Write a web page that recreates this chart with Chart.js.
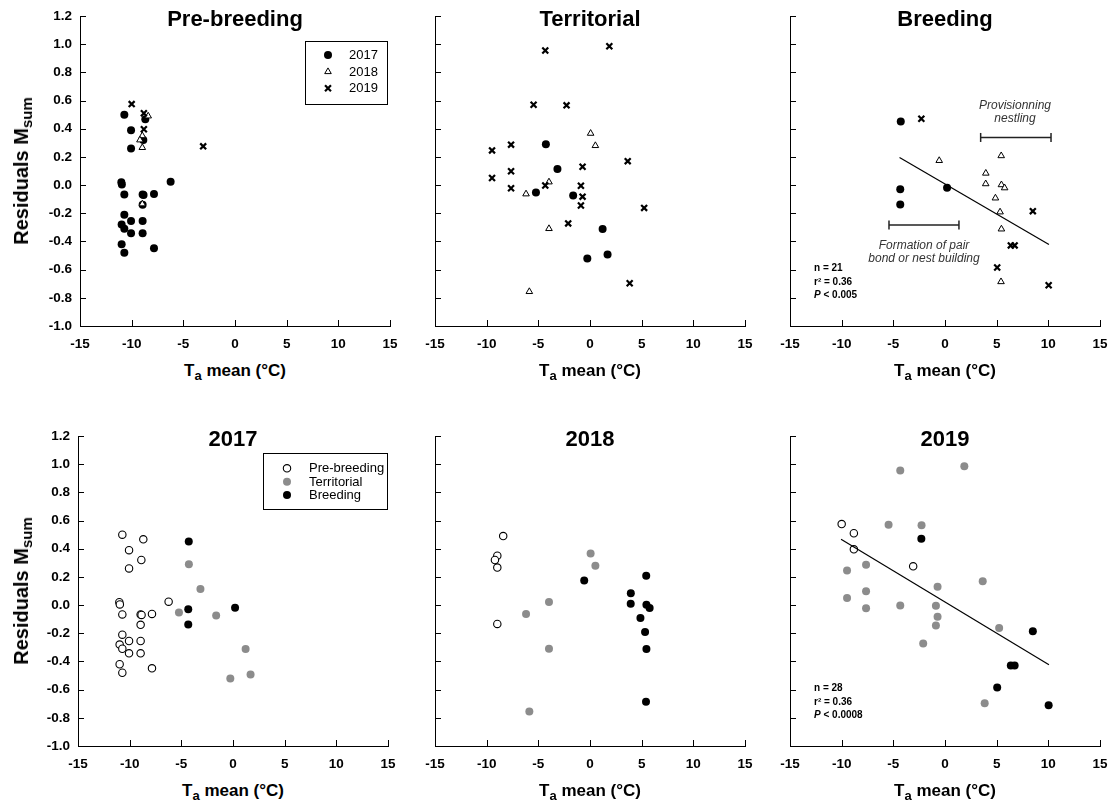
<!DOCTYPE html>
<html>
<head>
<meta charset="utf-8">
<title>Residuals Msum vs Ta mean</title>
<script src="https://cdn.jsdelivr.net/npm/chart.js@4.4.1/dist/chart.umd.min.js"></script>
<style>
  body { margin: 0; background: #fff; font-family: "Liberation Sans", Arial, sans-serif; }
  #page { position: relative; width: 1114px; height: 806px; overflow: hidden; background: #fff; }
  .box { position: absolute; width: 400px; height: 350px; }
  .txt { position: absolute; white-space: nowrap; line-height: 1; color: #000; }
  .sub { position: relative; top: 4px; }
</style>
</head>
<body>
<div id="page"></div>
<script>
// axis ranges / ticks
const xMin = -15, xMax = 15, xStep = 5;
const yMin = -1.0, yMax = 1.2, yStep = 0.2;

const years = ['2017', '2018', '2019'];
const phases = ['Pre-breeding', 'Territorial', 'Breeding'];

// [Ta mean, residual] per phase and year
const pre2017 = [[-10.71, 0.50], [-10.06, 0.39], [-10.06, 0.26], [-8.68, 0.467], [-8.87, 0.32],
  [-11.0, 0.02], [-10.95, 0.005], [-10.71, -0.066], [-8.94, -0.066], [-8.85, -0.07], [-7.84, -0.063],
  [-6.23, 0.024], [-8.94, -0.14], [-10.71, -0.21], [-10.97, -0.28], [-10.71, -0.31], [-10.06, -0.255],
  [-8.94, -0.255], [-10.06, -0.342], [-8.94, -0.342], [-10.97, -0.42], [-10.71, -0.48], [-7.84, -0.449]];
const pre2018 = [[-8.4, 0.49], [-8.97, 0.35], [-9.2, 0.32], [-8.97, 0.266], [-8.97, -0.134]];
const pre2019 = [[-10.0, 0.575], [-8.82, 0.51], [-8.82, 0.396], [-3.08, 0.275]];

const ter2017 = [[-4.27, 0.29], [-3.15, 0.115], [-5.23, -0.052], [-1.63, -0.074], [1.22, -0.311],
  [-0.26, -0.521], [1.7, -0.492]];
const ter2018 = [[0.06, 0.367], [0.52, 0.28], [-3.97, 0.022], [-6.19, -0.063], [-3.97, -0.309], [-5.87, -0.756]];
const ter2019 = [[-4.33, 0.955], [1.87, 0.985], [-5.46, 0.57], [-2.27, 0.566], [-9.48, 0.246], [-7.64, 0.287],
  [3.65, 0.17], [-9.48, 0.05], [-7.64, 0.098], [-7.64, -0.022], [-0.72, 0.13], [-4.33, -0.003], [-0.88, -0.005],
  [-0.72, -0.082], [-0.88, -0.145], [-2.11, -0.272], [5.24, -0.162], [3.84, -0.697]];

const bre2017 = [[-4.28, 0.451], [-4.33, -0.03], [-4.33, -0.137], [0.2, -0.019]];
const bre2018 = [[-0.56, 0.174], [5.44, 0.208], [3.95, 0.084], [3.94, 0.009], [5.46, 0.002], [5.77, -0.02],
  [4.88, -0.092], [5.33, -0.191], [5.46, -0.312], [5.42, -0.686]];
const bre2019 = [[-2.29, 0.471], [8.5, -0.185], [6.37, -0.428], [6.74, -0.428], [5.05, -0.585], [10.03, -0.711]];

// regression lines (end points)
const breedFitX = [-4.4, 10.06], breedFitY = [0.196, -0.422];
const fit2019X = [-10.06, 10.06], fit2019Y = [0.467, -0.424];

// phase ranges drawn in the Breeding panel
const provRange = [3.45, 10.26], provY = 0.338;
const formRange = [-5.42, 1.35], formY = -0.283;

const breedStats = ['n = 21', 'r\u00b2 = 0.36', 'P < 0.005'];
const stats2019 = ['n = 28', 'r\u00b2 = 0.36', 'P < 0.0008'];

const styles = {
  dot:   { pointStyle: 'circle', pointRadius: 4, pointBackgroundColor: '#000', pointBorderColor: '#000', pointBorderWidth: 0 },
  tri:   { pointStyle: 'triangle', pointRadius: 3.8, pointBackgroundColor: '#fff', pointBorderColor: '#000', pointBorderWidth: 1 },
  cross: { pointStyle: 'crossRot', pointRadius: 4.2, pointBackgroundColor: '#000', pointBorderColor: '#000', pointBorderWidth: 2.2 },
  open:  { pointStyle: 'circle', pointRadius: 3.7, pointBackgroundColor: '#fff', pointBorderColor: '#000', pointBorderWidth: 1.1 },
  gray:  { pointStyle: 'circle', pointRadius: 4, pointBackgroundColor: '#8c8c8c', pointBorderColor: '#8c8c8c', pointBorderWidth: 0 }
};

const topLegend = { box: [225, 24.5, 307, 87], mx: 248, tx: 269, rows: [39, 55.7, 72.3] };
const botLegend = { box: [185, 16.5, 309, 72], mx: 209, tx: 231, rows: [32.3, 45.7, 59] };

const panels = [
  { px: 80, py: 16, col: 0, title: phases[0], legend: topLegend,
    series: [{ label: years[0], data: pre2017, style: 'dot' }, { label: years[1], data: pre2018, style: 'tri' }, { label: years[2], data: pre2019, style: 'cross' }] },
  { px: 435, py: 16, col: 1, title: phases[1],
    series: [{ label: years[0], data: ter2017, style: 'dot' }, { label: years[1], data: ter2018, style: 'tri' }, { label: years[2], data: ter2019, style: 'cross' }] },
  { px: 790, py: 16, col: 2, title: phases[2], fit: [breedFitX, breedFitY], stats: breedStats, ranges: true,
    series: [{ label: years[0], data: bre2017, style: 'dot' }, { label: years[1], data: bre2018, style: 'tri' }, { label: years[2], data: bre2019, style: 'cross' }] },
  { px: 78, py: 436, col: 0, title: years[0], legend: botLegend,
    series: [{ label: phases[0], data: pre2017, style: 'open' }, { label: phases[1], data: ter2017, style: 'gray' }, { label: phases[2], data: bre2017, style: 'dot' }] },
  { px: 435, py: 436, col: 1, title: years[1],
    series: [{ label: phases[0], data: pre2018, style: 'open' }, { label: phases[1], data: ter2018, style: 'gray' }, { label: phases[2], data: bre2018, style: 'dot' }] },
  { px: 790, py: 436, col: 2, title: years[2], fit: [fit2019X, fit2019Y], stats: stats2019,
    series: [{ label: phases[0], data: pre2019, style: 'open' }, { label: phases[1], data: ter2019, style: 'gray' }, { label: phases[2], data: bre2019, style: 'dot' }] }
];

Chart.defaults.font.family = '"Liberation Sans", Arial, sans-serif';

// short ticks pointing into the plot
const inTicks = {
  id: 'inTicks',
  afterDraw(chart) {
    const { ctx, chartArea: a, scales: { x, y } } = chart;
    ctx.save();
    ctx.strokeStyle = '#000';
    ctx.lineWidth = 1;
    ctx.beginPath();
    x.ticks.forEach(t => {
      const p = Math.round(x.getPixelForValue(t.value)) + 0.5;
      ctx.moveTo(p, a.bottom); ctx.lineTo(p, a.bottom - 6);
    });
    y.ticks.forEach(t => {
      const p = Math.round(y.getPixelForValue(t.value)) + 0.5;
      ctx.moveTo(a.left, p); ctx.lineTo(a.left + 6, p);
    });
    ctx.stroke();
    ctx.restore();
  }
};

// boxed legend inside the plot
const boxLegend = {
  id: 'boxLegend',
  afterDraw(chart, args, opts) {
    if (!opts || !opts.box) return;
    const { ctx, chartArea: a } = chart;
    const b = opts.box;
    ctx.save();
    ctx.strokeStyle = '#000';
    ctx.lineWidth = 1;
    ctx.strokeRect(Math.round(a.left + b[0]) + 0.5, Math.round(a.top + b[1]) + 0.5, Math.round(b[2] - b[0]), Math.round(b[3] - b[1]));
    opts.items.forEach((it, i) => {
      const st = styles[it.style];
      const yy = a.top + opts.rows[i];
      ctx.fillStyle = st.pointBackgroundColor;
      ctx.strokeStyle = st.pointBorderColor;
      ctx.lineWidth = st.pointBorderWidth;
      Chart.helpers.drawPoint(ctx, { pointStyle: st.pointStyle, radius: st.pointRadius, rotation: 0, borderWidth: st.pointBorderWidth }, a.left + opts.mx, yy);
      ctx.fillStyle = '#000';
      ctx.font = '13px "Liberation Sans", Arial, sans-serif';
      ctx.textBaseline = 'middle';
      ctx.textAlign = 'left';
      ctx.fillText(it.label, a.left + opts.tx, yy + 0.5);
    });
    ctx.restore();
  }
};

const page = document.getElementById('page');

function addText(html, x, baseline, fs, css) {
  const d = document.createElement('div');
  d.className = 'txt';
  d.innerHTML = html;
  d.style.fontSize = fs + 'px';
  d.style.left = x + 'px';
  d.style.top = (baseline - 0.8465 * fs) + 'px';
  Object.assign(d.style, css || {});
  page.appendChild(d);
  return d;
}

const pts = arr => arr.map(([x, y]) => ({ x, y }));
const fmtStat = s => s.replace(/^P/, '<i>P</i>');

panels.forEach(p => {
  const box = document.createElement('div');
  box.className = 'box';
  box.style.left = (p.px - 75) + 'px';
  box.style.top = (p.py - 10) + 'px';
  const cv = document.createElement('canvas');
  cv.width = 400; cv.height = 350;
  box.appendChild(cv);
  page.appendChild(box);

  const n = p.series.length;
  const datasets = p.series.map((s, i) => Object.assign({
    type: 'scatter', label: s.label, data: pts(s.data), order: n - i + 1
  }, styles[s.style]));

  if (p.fit) {
    datasets.push({
      type: 'scatter', label: 'fit', showLine: true, order: 0,
      data: p.fit[0].map((x, i) => ({ x, y: p.fit[1][i] })),
      borderColor: '#000', borderWidth: 1.2, pointRadius: 0
    });
  }
  if (p.ranges) {
    [[provRange, provY], [formRange, formY]].forEach(([r, yv]) => {
      datasets.push({
        type: 'scatter', label: 'range', showLine: true, order: 0,
        data: r.map(x => ({ x, y: yv })),
        borderColor: '#222', borderWidth: 1.5,
        pointStyle: 'line', pointRotation: 90, pointRadius: 4.5,
        pointBorderColor: '#222', pointBorderWidth: 1.5
      });
    });
  }

  const legendOpts = p.legend ? Object.assign({
    items: p.series.map(s => ({ label: s.label, style: s.style }))
  }, p.legend) : {};

  new Chart(cv.getContext('2d'), {
    type: 'scatter',
    data: { datasets },
    options: {
      responsive: false,
      animation: false,
      events: [],
      layout: { padding: { top: 10, right: 15, bottom: 0, left: 0 } },
      plugins: { legend: { display: false }, tooltip: { enabled: false }, boxLegend: legendOpts },
      scales: {
        x: {
          type: 'linear', min: xMin, max: xMax,
          ticks: { stepSize: xStep, color: '#000', padding: 2, font: { size: 13.5, weight: 'bold' } },
          grid: { display: false },
          border: { display: true, color: '#000', width: 1 },
          afterFit: s => { s.height = 30; s.paddingLeft = 0; s.paddingRight = 0; }
        },
        y: {
          type: 'linear', min: yMin, max: yMax,
          ticks: {
            display: p.col === 0, stepSize: yStep, color: '#000', padding: 0,
            font: { size: 13.5, weight: 'bold' },
            callback: v => (Math.abs(v) < 1e-9 ? 0 : v).toFixed(1)
          },
          grid: { display: false },
          border: { display: true, color: '#000', width: 1 },
          afterFit: s => { s.width = 75; s.paddingTop = 0; s.paddingBottom = 0; }
        }
      }
    },
    plugins: [inTicks, boxLegend]
  });

  // panel title and axis titles
  addText(p.title, p.px + 155, p.py + 11, 22, { fontWeight: 'bold', transform: 'translateX(-50%)' });
  addText('T<span class="sub" style="font-size:13px">a</span> mean (\u00b0C)', p.px + 155, p.py + 360.5, 17,
    { fontWeight: 'bold', transform: 'translateX(-50%)' });
  if (p.col === 0) {
    const d = document.createElement('div');
    d.className = 'txt';
    d.innerHTML = 'Residuals M<span class="sub" style="font-size:15px">sum</span>';
    Object.assign(d.style, { fontSize: '20px', fontWeight: 'bold', left: '21px', top: (p.py + 155) + 'px',
      transform: 'translate(-50%, -50%) rotate(-90deg)' });
    page.appendChild(d);
  }
  if (p.stats) {
    [255.5, 269, 282.5].forEach((b, i) => {
      addText(fmtStat(p.stats[i]), p.px + 24, p.py + b, 10, { fontWeight: 'bold' });
    });
  }
  if (p.ranges) {
    const it = { fontStyle: 'italic', color: '#333', transform: 'translateX(-50%)' };
    addText('Provisionning', p.px + 225, p.py + 93.5, 12, it);
    addText('nestling', p.px + 225, p.py + 106, 12, it);
    addText('Formation of pair', p.px + 134, p.py + 233.5, 12, it);
    addText('bond or nest building', p.px + 134, p.py + 246, 12, it);
  }
});
</script>
</body>
</html>
